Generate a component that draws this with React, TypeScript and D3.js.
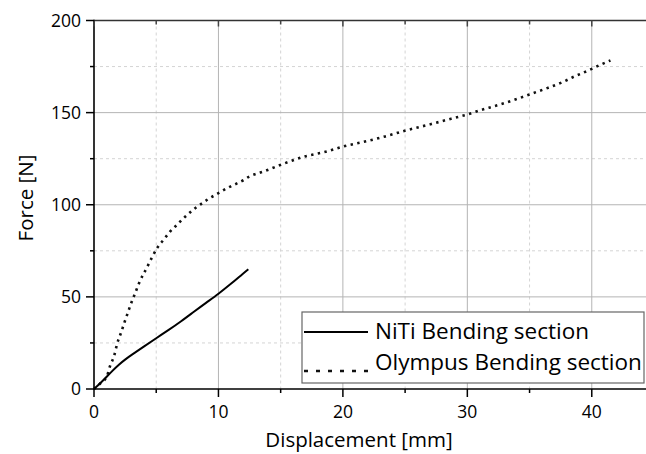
import React, { useEffect, useRef } from 'react';
import * as d3 from 'd3';

// NiTi bending section (solid)
const nitiX = [0, 0.5, 1, 1.5, 2, 2.5, 3, 4, 5, 6, 7, 8, 9, 10, 11, 12, 12.4];
const nitiY = [0, 3, 6.5, 10, 13.3, 16, 18.4, 23, 27.6, 32, 36.7, 41.8, 46.8, 51.6, 57, 62.8, 65];

// Olympus bending section (dotted)
const olyX = [0, 0.5, 1.02, 1.29, 1.63, 1.87, 2.17, 2.44, 2.73, 3.0, 3.32, 3.61, 4.28, 4.66, 5.08, 5.57, 6.1, 6.64, 7.17, 7.71, 8.25, 8.78, 9.24, 9.85, 10.3, 10.9, 11.46, 12, 12.5, 13.1, 13.6, 15.2, 16.95, 18.7, 20, 21.6, 23.4, 25.1, 27.1, 28.7, 30, 31, 32.1, 33.1, 34.2, 35.3, 36.5, 37.6, 38.6, 39.6, 40.7, 41.5];
const olyY = [0, 3, 6.7, 12.5, 18.3, 24.8, 30.5, 36, 41.6, 46.8, 52.2, 57.3, 66.3, 71.4, 76.6, 80.8, 85.3, 88.9, 92.5, 95.8, 98.8, 101.2, 103.4, 105.7, 107.5, 109.7, 111.5, 113.3, 115.4, 116.9, 118, 122.2, 126.2, 128.9, 131.6, 134, 137.1, 140.4, 143.8, 146.7, 149, 151.2, 153.4, 155.4, 157.9, 160.6, 163.5, 166.4, 169.6, 172.5, 176, 178.3];

const xMajor = [0, 10, 20, 30, 40];
const xMinor = [5, 15, 25, 35, 45];
const yMajor = [0, 50, 100, 150, 200];
const yMinor = [25, 75, 125, 175];

const legendNames = ['NiTi Bending section', 'Olympus Bending section'];

const FONT = '"Open Sans", sans-serif';

const App = () => {
	const ref = useRef<SVGSVGElement>(null);
	const width = 646;
	const height = 454;

	useEffect(() => {
		if (!ref.current) return;
		const svg = d3.select(ref.current);
		svg.selectAll('*').remove();

		const x = d3.scaleLinear().domain([0, 45]).range([94, 654]);
		const y = d3.scaleLinear().domain([0, 200]).range([389, 20.5]);
		const top = y(200);
		const bottom = y(0);
		const left = x(0);

		// grid
		const grid = svg.append('g');
		grid.selectAll('.gxm').data(xMinor).join('line')
			.attr('x1', d => x(d)).attr('x2', d => x(d)).attr('y1', top).attr('y2', bottom)
			.attr('stroke', '#d4d4d4').attr('stroke-dasharray', '3,3');
		grid.selectAll('.gym').data(yMinor).join('line')
			.attr('y1', d => y(d)).attr('y2', d => y(d)).attr('x1', left).attr('x2', width)
			.attr('stroke', '#d4d4d4').attr('stroke-dasharray', '3,3');
		grid.selectAll('.gx').data(xMajor.slice(1)).join('line')
			.attr('x1', d => x(d)).attr('x2', d => x(d)).attr('y1', top).attr('y2', bottom)
			.attr('stroke', '#b4b4b4');
		grid.selectAll('.gy').data(yMajor.slice(1, -1)).join('line')
			.attr('y1', d => y(d)).attr('y2', d => y(d)).attr('x1', left).attr('x2', width)
			.attr('stroke', '#b4b4b4');

		// lines
		const niti = nitiX.map((d, i) => [d, nitiY[i]]);
		const oly = olyX.map((d, i) => [d, olyY[i]]);
		const pathGen = d3.line<number[]>().x(d => x(d[0])).y(d => y(d[1])).curve(d3.curveMonotoneX);
		const smoothGen = d3.line<number[]>().x(d => x(d[0])).y(d => y(d[1])).curve(d3.curveBasis);

		svg.append('path').attr('d', pathGen(oly)!)
			.attr('fill', 'none').attr('stroke', '#111').attr('stroke-width', 2.6)
			.attr('stroke-dasharray', '2.4,4.4');
		svg.append('path').attr('d', smoothGen(niti)!)
			.attr('fill', 'none').attr('stroke', '#000').attr('stroke-width', 2);

		// axes frame
		svg.append('line').attr('x1', left).attr('x2', width).attr('y1', top).attr('y2', top)
			.attr('stroke', '#333').attr('stroke-width', 1.6);
		svg.append('line').attr('x1', left).attr('x2', width).attr('y1', bottom).attr('y2', bottom)
			.attr('stroke', '#000').attr('stroke-width', 1.6);
		svg.append('line').attr('x1', left).attr('x2', left).attr('y1', top - 0.8).attr('y2', bottom + 0.8)
			.attr('stroke', '#000').attr('stroke-width', 1.6);

		// ticks
		const ticks = svg.append('g').attr('stroke', '#000').attr('stroke-width', 1.5);
		ticks.selectAll('.xt').data(xMajor).join('line')
			.attr('x1', d => x(d)).attr('x2', d => x(d)).attr('y1', bottom).attr('y2', bottom + 8);
		ticks.selectAll('.xtm').data(xMinor).join('line')
			.attr('x1', d => x(d)).attr('x2', d => x(d)).attr('y1', bottom).attr('y2', bottom + 4);
		ticks.selectAll('.xtt').data(xMajor).join('line')
			.attr('x1', d => x(d)).attr('x2', d => x(d)).attr('y1', top).attr('y2', top + 6)
			.attr('stroke', '#444');
		ticks.selectAll('.xttm').data(xMinor).join('line')
			.attr('x1', d => x(d)).attr('x2', d => x(d)).attr('y1', top).attr('y2', top + 4)
			.attr('stroke', '#444');
		ticks.selectAll('.yt').data(yMajor).join('line')
			.attr('y1', d => y(d)).attr('y2', d => y(d)).attr('x1', left - 8).attr('x2', left);
		ticks.selectAll('.ytm').data(yMinor).join('line')
			.attr('y1', d => y(d)).attr('y2', d => y(d)).attr('x1', left - 4).attr('x2', left);

		// tick labels
		svg.append('g').selectAll('text').data(xMajor).join('text')
			.attr('x', d => x(d)).attr('y', 417.5)
			.attr('text-anchor', 'middle')
			.style('font-family', FONT).style('font-size', '17.5px').attr('fill', '#000')
			.text(d => d);
		svg.append('g').selectAll('text').data(yMajor).join('text')
			.attr('x', 81).attr('y', d => y(d) + 6.3)
			.attr('text-anchor', 'end')
			.style('font-family', FONT).style('font-size', '17.5px').attr('fill', '#000')
			.text(d => d);

		// axis titles
		svg.append('text').attr('x', 359).attr('y', 447).attr('text-anchor', 'middle')
			.style('font-family', FONT).style('font-size', '20.5px').attr('fill', '#000')
			.text('Displacement [mm]');
		svg.append('text').attr('transform', 'translate(33,198) rotate(-90)').attr('text-anchor', 'middle')
			.style('font-family', FONT).style('font-size', '20.5px').attr('fill', '#000')
			.text('Force [N]');

		// legend
		const lg = svg.append('g');
		lg.append('rect').attr('x', 302).attr('y', 312).attr('width', 342).attr('height', 71)
			.attr('fill', '#fff').attr('stroke', '#666').attr('stroke-width', 1.2);
		lg.append('line').attr('x1', 304).attr('x2', 368).attr('y1', 332).attr('y2', 332)
			.attr('stroke', '#000').attr('stroke-width', 2);
		lg.append('line').attr('x1', 304).attr('x2', 368).attr('y1', 371).attr('y2', 371)
			.attr('stroke', '#111').attr('stroke-width', 2.4).attr('stroke-dasharray', '4,8');
		lg.selectAll('.lt').data(legendNames).join('text')
			.attr('x', 375).attr('y', (d, i) => 339 + i * 31)
			.style('font-family', FONT).style('font-size', '22.5px').attr('fill', '#000')
			.text(d => d);
	}, []);

	return <svg ref={ref} width={width} height={height} style={{ position: 'absolute', left: 0, top: 0, background: '#fff' }} />;
};

export default App;
